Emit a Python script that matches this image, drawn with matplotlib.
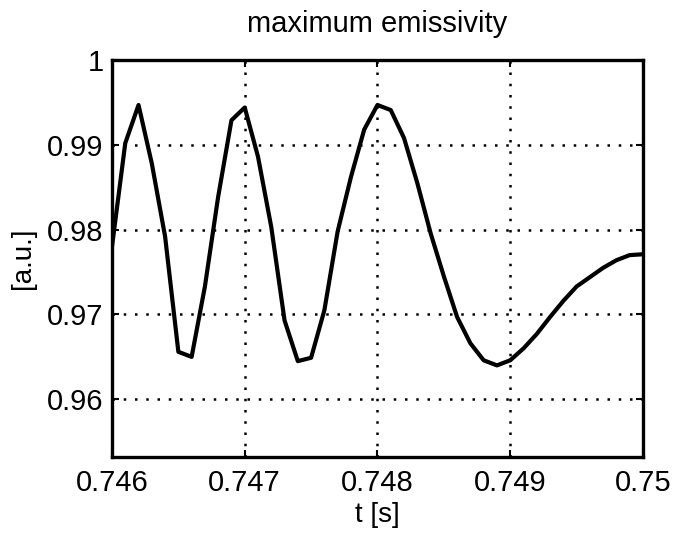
import numpy as np
import matplotlib
matplotlib.use("Agg")
import matplotlib.pyplot as plt

# time samples [s] and max emissivity [a.u.]
t = np.round(0.746 + 0.0001 * np.arange(41), 5)
emissivity = [
    0.9780, 0.9902, 0.9947, 0.9878, 0.9792, 0.9656, 0.9650, 0.9733, 0.9839, 0.9929,
    0.9944, 0.9886, 0.9803, 0.9693, 0.9645, 0.9649, 0.9705, 0.9798, 0.9862, 0.9918,
    0.9947, 0.9941, 0.9908, 0.9855, 0.9796, 0.9745, 0.9697, 0.9666, 0.9646, 0.9640,
    0.9646, 0.9660, 0.9677, 0.9697, 0.9716, 0.9733, 0.9744, 0.9755, 0.9764, 0.9770,
    0.9771,
]
xticks = [0.746, 0.747, 0.748, 0.749, 0.75]
xtick_labels = ["0.746", "0.747", "0.748", "0.749", "0.75"]
yticks = [0.96, 0.97, 0.98, 0.99, 1.0]
ytick_labels = ["0.96", "0.97", "0.98", "0.99", "1"]

plt.rcParams["font.family"] = ["Liberation Sans", "DejaVu Sans"]

fig = plt.figure(figsize=(6.93, 5.33), dpi=100)
ax = fig.add_axes([0.1616, 0.1426, 0.7662, 0.7448])

ax.plot(t, emissivity, color="black", linewidth=3.0)

ax.set_xlim(0.746, 0.75)
ax.set_ylim(0.9532, 1.0)
ax.set_xticks(xticks)
ax.set_xticklabels(xtick_labels)
ax.set_yticks(yticks)
ax.set_yticklabels(ytick_labels)
ax.tick_params(direction="in", length=5, width=1.5, labelsize=21, top=True, right=True)
ax.tick_params(axis="x", pad=9)
ax.tick_params(axis="y", pad=6)
ax.grid(True, color="black", linestyle=(0, (1, 3.5)), linewidth=1.8)

for s in ax.spines.values():
    s.set_linewidth(2.4)

ax.set_title("maximum emissivity", fontsize=21, pad=20)
ax.set_xlabel("t [s]", fontsize=20, labelpad=3)
ax.set_ylabel("[a.u.]", fontsize=20, labelpad=8)

fig.savefig("out.png", dpi=100)
